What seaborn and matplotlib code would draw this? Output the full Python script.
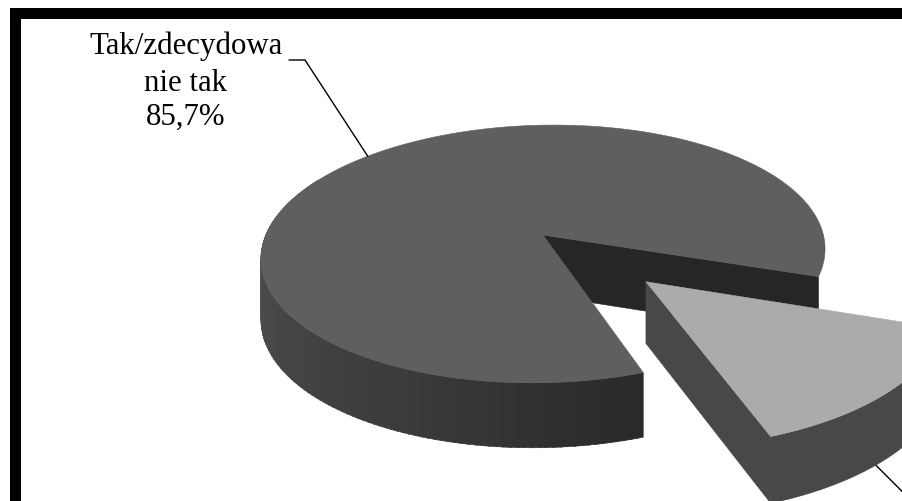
import numpy as np
import matplotlib
matplotlib.use("Agg")
import matplotlib.pyplot as plt
from matplotlib.patches import Rectangle
import seaborn as sns

# Survey shares, in percent
shares = [85.7, 14.3]
label_lines = ["Tak/zdecydowa", "nie tak", "85,7%"]

sns.set_style("white")
plt.rcParams["font.family"] = ["Liberation Serif", "DejaVu Serif"]

# Scene geometry for the tilted pie, in canvas pixels
CX, CY = 543.0, 236.0
RX, RY = 279.0, 126.0
PERSP = 0.147
ROLL = 5.0
THICK = 60.0
SLICE_START = -72.0
EXPLODE = 0.505
LEADER_ANGLE = 134.0
SLICE_LEADER_OFFSET = -3.5

TOP_MAIN = "#5f5f5f"
WALL_MAIN = "#262626"
TOP_SLICE = "#ababab"
SIDE_SLICE = "#484848"


def project(u, v, drop=False):
    """Perspective projection of table coordinates onto the canvas."""
    u, v = np.asarray(u, float), np.asarray(v, float)
    w = 1 + PERSP * v
    x = CX + RX * u / w
    y = CY - RY * v / w - ROLL * u / w
    if drop:
        y = y + THICK / np.sqrt(w)
    return x, y


def rim(angles, shift=(0.0, 0.0)):
    a = np.radians(angles)
    return np.cos(a) + shift[0], np.sin(a) + shift[1]


def extrude(ax, us, vs, color, zorder):
    """Fill the vertical band hanging under a top-face edge."""
    xt, yt = project(us, vs)
    xb, yb = project(us, vs, drop=True)
    ax.fill(np.r_[xt, xb[::-1]], np.r_[yt, yb[::-1]],
            color=color, lw=0.4, zorder=zorder)


fig = plt.figure(figsize=(9.03, 5.02), dpi=100)
ax = fig.add_axes([0, 0, 1, 1])
ax.set_xlim(0, 903)
ax.set_ylim(502, 0)
ax.axis("off")

slice_sweep = shares[1] / sum(shares) * 360
slice_end = SLICE_START + slice_sweep
slice_mid = (SLICE_START + slice_end) / 2
main_end = SLICE_START + 360

# Main body: inner wall, graded outer side, then the top face
ue, ve = rim(np.array([slice_end]))
extrude(ax, np.r_[0, ue], np.r_[0, ve], WALL_MAIN, 2)

side_angles = np.linspace(150, main_end, 111)
ramp = sns.blend_palette(["#585858", "#4a4a4a", "#3c3c3c", "#2a2a2a"], len(side_angles) - 1)
for a0, a1, colour in zip(side_angles[:-1], side_angles[1:], ramp):
    us, vs = rim(np.linspace(a0, min(a1 + 0.3, main_end), 4))
    extrude(ax, us, vs, colour, 3)

top_angles = np.linspace(slice_end, main_end, 400)
us, vs = rim(top_angles)
x, y = project(np.r_[0, us], np.r_[0, vs])
ax.fill(x, y, color=TOP_MAIN, lw=0.4, zorder=4)

# Pulled-out slice
shift = (EXPLODE * np.cos(np.radians(slice_mid)), EXPLODE * np.sin(np.radians(slice_mid)))
arc = np.linspace(SLICE_START, slice_end, 80)
us, vs = rim(arc, shift)
extrude(ax, us, vs, SIDE_SLICE, 5)
extrude(ax, np.r_[shift[0], us[0]], np.r_[shift[1], vs[0]], SIDE_SLICE, 5)
x, y = project(np.r_[shift[0], us], np.r_[shift[1], vs])
ax.fill(x, y, color=TOP_SLICE, lw=0.4, zorder=6)

# Leader lines
lu, lv = rim(np.array([LEADER_ANGLE]))
lx, ly = project(lu, lv)
ax.plot([289, 305, lx[0]], [61, 61, ly[0]], color="black", lw=1.0, zorder=7,
        solid_joinstyle="miter")
su, sv = rim(np.array([slice_mid + SLICE_LEADER_OFFSET]), shift)
sx, sy = project(su, sv, drop=True)
ax.plot([sx[0], sx[0] + 40], [sy[0], sy[0] + 40], color="black", lw=1.0, zorder=4.5)

# Label text
for line, base in zip(label_lines, [54, 91, 125]):
    ax.text(186, base, line, ha="center", va="baseline", fontsize=22.2,
            color="black", zorder=8)

# Heavy frame on the top and left edges
ax.add_patch(Rectangle((10, 9), 893, 11, color="black", lw=0, zorder=9))
ax.add_patch(Rectangle((10, 9), 11, 493, color="black", lw=0, zorder=9))

fig.savefig("out.png", dpi=100, facecolor="white")
